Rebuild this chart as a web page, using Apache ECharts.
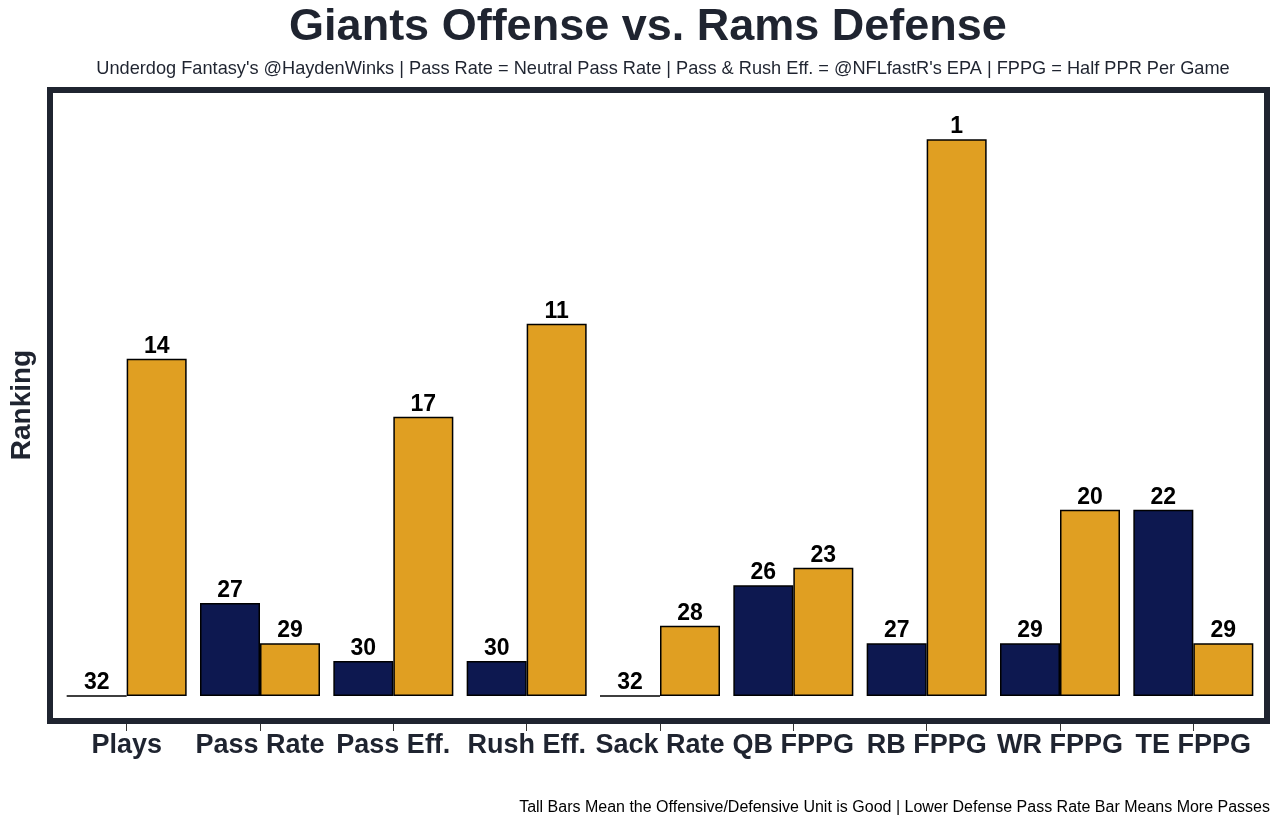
<!DOCTYPE html>
<html>
<head>
<meta charset="utf-8">
<script src="https://cdn.jsdelivr.net/npm/echarts@6/dist/echarts.min.js"></script>
<style>html,body{margin:0;padding:0;background:#fff}#c{width:1280px;height:826px}</style>
</head>
<body>
<div id="c"></div>
<script>
const categories = ['Plays','Pass Rate','Pass Eff.','Rush Eff.','Sack Rate','QB FPPG','RB FPPG','WR FPPG','TE FPPG'];
// bar heights (score units)
const offenseValues = [0, 5.3, 2.0, 2.0, 0, 6.3, 3.0, 3.0, 10.6];
const defenseValues = [19.2, 3.0, 15.9, 21.2, 4.0, 7.3, 31.7, 10.6, 3.0];
// rank labels shown above bars
const offenseRanks = [32, 27, 30, 30, 32, 26, 27, 29, 22];
const defenseRanks = [14, 29, 17, 11, 28, 23, 1, 20, 29];

const chart = echarts.init(document.getElementById('c'), null, {renderer:'canvas'});
const dark = '#1f2430';
const font = 'Liberation Sans, Arial, sans-serif';
function lbl(ranks){
  return {show:true, position:'top', distance:1, color:'#000', fontWeight:'bold', fontSize:23, fontFamily:font,
    formatter: p => String(ranks[p.dataIndex])};
}
chart.setOption({
  animation:false,
  title:[
    {text:'Giants Offense vs. Rams Defense', left:643, top:0, textAlign:'center',
     textStyle:{fontSize:45, fontWeight:'bold', color:dark, fontFamily:font}},
    {text:"Underdog Fantasy's @HaydenWinks | Pass Rate = Neutral Pass Rate | Pass & Rush Eff. = @NFLfastR's EPA | FPPG = Half PPR Per Game",
     left:658, top:55, textAlign:'center',
     textStyle:{fontSize:18.2, fontWeight:'normal', color:dark, fontFamily:font}},
    {text:'Tall Bars Mean the Offensive/Defensive Unit is Good | Lower Defense Pass Rate Bar Means More Passes',
     right:5, top:795,
     textStyle:{fontSize:16, fontWeight:'normal', color:'#000', fontFamily:font}}
  ],
  grid:{left:60, right:20, top:134, bottom:102},
  xAxis:{type:'category', data:categories,
    axisLine:{show:false, onZero:false},
    axisTick:{show:true, alignWithLabel:true, length:7, lineStyle:{color:'#333', width:1}},
    axisLabel:{fontSize:27, fontWeight:'bold', color:dark, fontFamily:font, margin:8, interval:0}},
  yAxis:{type:'value', min:-1.594, max:32, show:false, splitLine:{show:false}},
  series:[
    {type:'bar', data:offenseValues, barGap:'0%', barCategoryGap:'10%',
     itemStyle:{color:'#0d1850', borderColor:'#000', borderWidth:1.5}, label:lbl(offenseRanks)},
    {type:'bar', data:defenseValues,
     itemStyle:{color:'#e09f22', borderColor:'#000', borderWidth:1.5}, label:lbl(defenseRanks)}
  ],
  graphic:[
    {type:'rect', shape:{x:50, y:90, width:1217, height:631}, style:{fill:null, stroke:dark, lineWidth:6}, silent:true, z:10},
    {type:'text', x:22, y:405, rotation:Math.PI/2,
     style:{text:'Ranking', fontSize:28, fontWeight:'bold', fill:dark, fontFamily:font, textAlign:'center', textVerticalAlign:'middle'}}
  ]
});
</script>
</body>
</html>
